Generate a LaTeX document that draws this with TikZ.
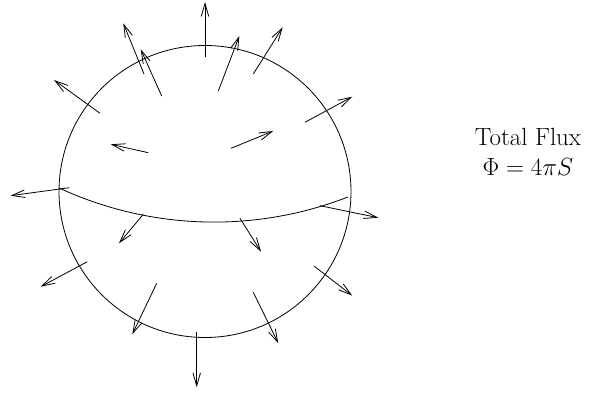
\documentclass[tikz,border=0pt]{standalone}
\usetikzlibrary{arrows.meta}
\begin{document}
\begin{tikzpicture}[x=1pt,y=-1pt,line width=0.8pt,
  flux/.style={-{Straight Barb[length=13pt,width=7.5pt]}}]
\useasboundingbox (0,0) rectangle (592,393);
\draw (205,191.5) circle[radius=146];
\draw plot[domain=68.76:114.8,samples=80,variable=\t] ({214.09+369.6*cos(\t)},{-147.5+369.6*sin(\t)});
\draw[flux] (205,57) -- (205,2);
\draw[flux] (144,74) -- (123.3,23.3);
\draw[flux] (161.7,96) -- (140.7,49.3);
\draw[flux] (218.3,91) -- (239.3,36);
\draw[flux] (253.3,74) -- (282.7,27.3);
\draw[flux] (100,113.3) -- (54,80);
\draw[flux] (148.3,152.7) -- (110.7,144.3);
\draw[flux] (231,148.3) -- (273.3,131);
\draw[flux] (69.3,187.7) -- (10.5,195.7);
\draw[flux] (305,122.3) -- (352.3,96.7);
\draw[flux] (143.3,214.3) -- (119,243.3);
\draw[flux] (87.3,261.7) -- (40.7,286.7);
\draw[flux] (156.7,283.3) -- (132.3,334.3);
\draw[flux] (196.7,331.7) -- (196.7,387.3);
\draw[flux] (240,218.3) -- (261,251.7);
\draw[flux] (320,205.7) -- (378.3,217.7);
\draw[flux] (314,266) -- (352.3,295.7);
\draw[flux] (253.3,292.3) -- (278.3,343.3);
\node[align=center,font=\fontsize{24.88}{30.6}\selectfont] (label) at (528,152) {Total Flux\\$\Phi=4\pi S$};
\end{tikzpicture}
\end{document}
